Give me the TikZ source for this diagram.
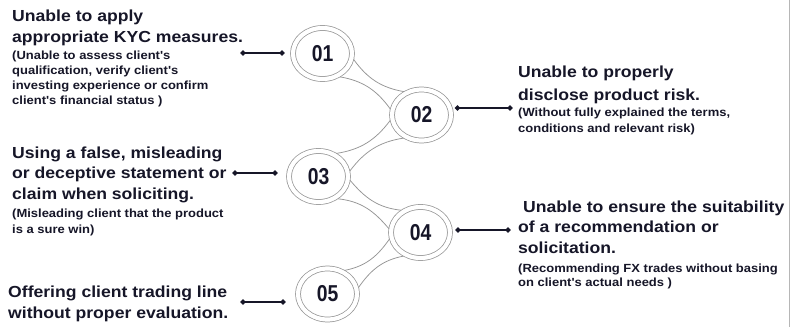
\documentclass[tikz,border=0pt]{standalone}
\usepackage{fontspec}
\setmainfont{Liberation Sans}
\newfontfamily\hfont{Liberation Sans}[FakeStretch=1.1]
\newfontfamily\numfont{Liberation Sans}[FakeStretch=0.84]
\usetikzlibrary{arrows.meta,shapes.geometric}
\definecolor{ink}{RGB}{22,22,40}
\definecolor{ringc}{RGB}{150,150,150}
\newcommand\hl[1]{\hbox{\fontsize{16}{21}\hfont\bfseries #1}}
\newcommand\nl[1]{\hbox{\fontsize{11.8}{15}\hfont\bfseries #1}}
\newcommand\bridge[3]{%
  \pgfmathtruncatemacro\bA{#3+21}\pgfmathtruncatemacro\bB{#3+159}%
  \pgfmathtruncatemacro\bC{#3-21}\pgfmathtruncatemacro\bD{#3+201}%
  \pgfmathtruncatemacro\bo{#3-22}\pgfmathtruncatemacro\bi{#3+202}%
  \pgfmathtruncatemacro\bp{#3+22}\pgfmathtruncatemacro\bq{#3+158}%
  \draw[bridgeline] (#1.\bA) to[out=\bo,in=\bi] (#2.\bB);
  \draw[bridgeline] (#1.\bC) to[out=\bp,in=\bq] (#2.\bD);
}
\tikzset{
  cdot/.tip={Circle[length=5pt,width=5pt]},
  ringnode/.style={ellipse, draw=ringc, line width=0.75pt, double=white,
    double distance=4.2pt, minimum width=59pt, minimum height=51pt,
    inner sep=0pt, outer sep=2.5pt, text=ink,
    font=\numfont\bfseries\fontsize{23}{23}\selectfont},
  bridgeline/.style={draw=ringc, line width=0.75pt},
  conn/.style={draw=ink, line width=1.4pt, cdot-cdot},
  txt/.style={inner sep=0pt, anchor=base west, text=ink}
}
\begin{document}
\begin{tikzpicture}[x=1pt,y=1pt]
\useasboundingbox[fill=white] (0,0) rectangle (790,-327);
\draw[ringc!70, line width=0.8pt] (789.4,0) -- (789.4,-327);

\node[ringnode] (n1) at (322.5,-53.5) {01};
\node[ringnode] (n2) at (421.5,-115) {02};
\node[ringnode] (n3) at (318.5,-176.5) {03};
\node[ringnode] (n4) at (420.5,-232.5) {04};
\node[ringnode] (n5) at (327.5,-294) {05};

\bridge{n1}{n2}{-32}
\bridge{n2}{n3}{211}
\bridge{n3}{n4}{-28}
\bridge{n4}{n5}{213}

\node[txt] (t1) at (12,-21) {\vtop{\lineskiplimit=-100pt
  \baselineskip=21pt \hl{Unable to apply}\hl{appropriate KYC measures.}
  \baselineskip=17pt \nl{(Unable to assess client's}
  \baselineskip=15pt \nl{qualification, verify client's}\nl{investing experience or confirm}\nl{client's financial status )}}};

\node[txt] (t2) at (518,-77) {\vtop{\lineskiplimit=-100pt
  \baselineskip=23pt \hl{Unable to properly}\hl{disclose product risk.}
  \baselineskip=16pt \nl{(Without fully explained the terms,}
  \baselineskip=16pt \nl{conditions and relevant risk)}}};

\node[txt] (t3) at (12,-158) {\vtop{\lineskiplimit=-100pt
  \baselineskip=20.5pt \hl{Using a false, misleading}\hl{or deceptive statement or}\hl{claim when soliciting.}
  \baselineskip=18pt \nl{(Misleading client that the product}
  \baselineskip=16pt \nl{is a sure win)}}};

\node[txt] (t4) at (518,-212) {\vtop{\lineskiplimit=-100pt
  \baselineskip=20.5pt \hl{\kern5pt Unable to ensure the suitability}\hl{of a recommendation or}\hl{solicitation.}
  \baselineskip=19pt \nl{(Recommending FX trades without basing}
  \baselineskip=14.5pt \nl{on client's actual needs )}}};

\node[txt] (t5) at (8,-297) {\vtop{\lineskiplimit=-100pt
  \baselineskip=21pt \hl{Offering client trading line}\hl{without proper evaluation.}}};

\coordinate (k1) at (240.5,-53);
\coordinate (k2) at (512.5,-108);
\coordinate (k3) at (232.5,-173);
\coordinate (k4) at (510.5,-230);
\coordinate (k5) at (240.5,-302);
\draw[conn, shorten >=6pt] (k1) -- (n1.west |- k1);
\draw[conn, shorten <=1.5pt] (n2.east |- k2) -- (k2);
\draw[conn, shorten >=9pt] (k3) -- (n3.west |- k3);
\draw[conn, shorten <=3pt] (n4.east |- k4) -- (k4);
\draw[conn, shorten >=10pt] (k5) -- (n5.west |- k5);
\end{tikzpicture}
\end{document}
